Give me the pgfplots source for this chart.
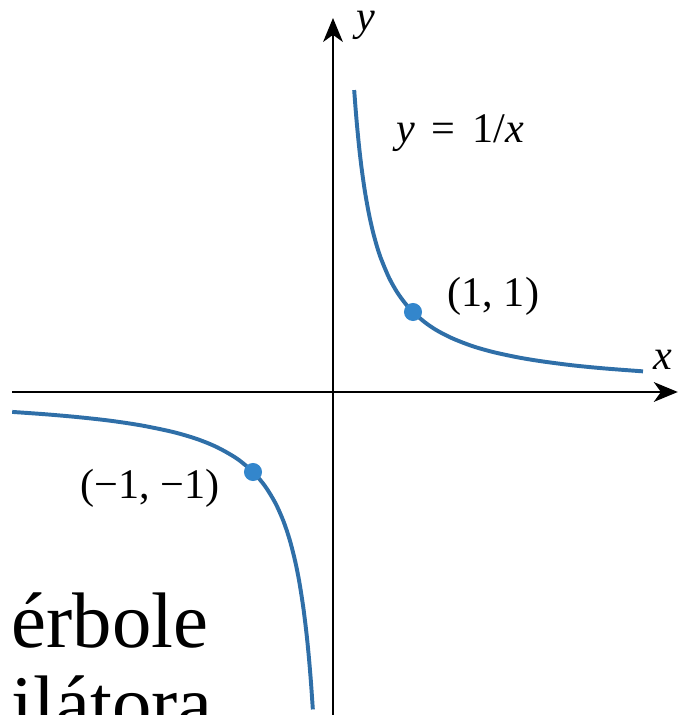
\documentclass[border=0pt]{standalone}
\usepackage{fontspec}
\setmainfont{Liberation Serif}
\usepackage{pgfplots}
\pgfplotsset{compat=1.18}
\usetikzlibrary{arrows.meta}
\definecolor{hypblue}{HTML}{2F6FA8}
\definecolor{dotblue}{HTML}{3386CC}

\begin{document}
\begin{tikzpicture}
\begin{axis}[
  x=1cm, y=1cm,
  xmin=-4.1625, xmax=4.325,
  ymin=-4.0375, ymax=4.9,
  hide axis, clip=false,
  every node/.style={inner sep=0pt},
]
% axes
\addplot[black, line width=0.9pt, -{Stealth[length=8.5pt,width=7pt,inset=2.5pt]}] coordinates {(-4.01,0) (4.31,0)};
\addplot[black, line width=0.9pt, -{Stealth[length=8.5pt,width=7pt,inset=2.5pt]}] coordinates {(0,-4.04) (0,4.675)};
% y = 1/x, right branch
\addplot[hypblue, line width=1.4pt, smooth] coordinates {
  (0.265,3.774) (0.28,3.571) (0.30,3.333) (0.33,3.030) (0.36,2.778)
  (0.40,2.500) (0.45,2.222) (0.50,2.000) (0.55,1.818) (0.60,1.667)
  (0.70,1.429) (0.80,1.250) (0.90,1.111) (1.00,1.000) (1.15,0.870)
  (1.30,0.769) (1.50,0.667) (1.75,0.571) (2.00,0.500) (2.30,0.435)
  (2.60,0.385) (3.00,0.333) (3.40,0.294) (3.875,0.258)};
% left branch
\addplot[hypblue, line width=1.4pt, smooth] coordinates {
  (-4.01,-0.249) (-3.60,-0.278) (-3.20,-0.313) (-2.80,-0.357) (-2.40,-0.417)
  (-2.00,-0.500) (-1.70,-0.588) (-1.45,-0.690) (-1.20,-0.833) (-1.00,-1.000)
  (-0.85,-1.176) (-0.72,-1.389) (-0.62,-1.613) (-0.54,-1.852) (-0.47,-2.128)
  (-0.42,-2.381) (-0.37,-2.703) (-0.33,-3.030) (-0.30,-3.333) (-0.275,-3.636)
  (-0.252,-3.968)};
% marked points
\addplot[only marks, mark=*, mark size=3pt, dotblue] coordinates {(1,1) (-1,-1)};
% labels
\node[anchor=west, font=\fontsize{15}{17}\selectfont] at (axis cs:0.665,3.24) {\textit{y}\hspace{0.4em}=\hspace{0.4em}1/\textit{x}};
\node[anchor=west, font=\fontsize{15}{17}\selectfont] at (axis cs:1.31,1.19) {(1, 1)};
\node[anchor=east, font=\fontsize{15}{17}\selectfont] at (axis cs:-1.29,-1.21) {(−1, −1)};
\node[font=\fontsize{15}{17}\selectfont\itshape] at (axis cs:4.125,0.4) {x};
\node[font=\fontsize{15}{17}\selectfont\itshape] at (axis cs:0.41,4.58) {y};
% slide text behind the figure
\node[anchor=base west, font=\fontsize{28}{29}\selectfont] at (axis cs:-4.14,-3.19) {érbole};
\node[anchor=base west, font=\fontsize{28}{29}\selectfont] at (axis cs:-4.14,-4.23) {ilátora};
\coordinate (bl) at (axis cs:-4.1625,-4.0375);
\coordinate (tr) at (axis cs:4.325,4.9);
\end{axis}
\pgfresetboundingbox
\path (bl) rectangle (tr);
\end{tikzpicture}
\end{document}
